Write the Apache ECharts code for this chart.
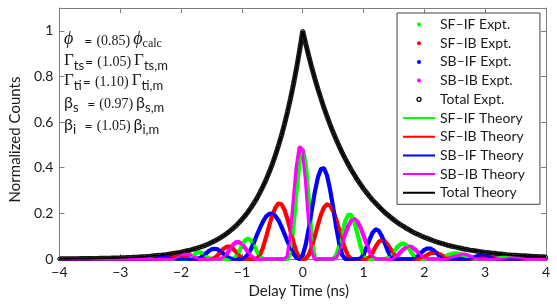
<!DOCTYPE html>
<html><head><meta charset="utf-8">
<script src="https://cdn.jsdelivr.net/npm/echarts@6/dist/echarts.min.js"></script>
<style>html,body{margin:0;padding:0;background:#fff}#c{width:557px;height:304px}</style>
</head><body><div id="c"></div>
<script>
// Delay time grid (ns)
const delay = [-4,-3.95,-3.9,-3.85,-3.8,-3.75,-3.7,-3.65,-3.6,-3.55,-3.5,-3.45,-3.4,-3.35,-3.3,-3.25,-3.2,-3.15,-3.1,-3.05,
-3,-2.95,-2.9,-2.85,-2.8,-2.75,-2.7,-2.65,-2.6,-2.55,-2.5,-2.45,-2.4,-2.35,-2.3,-2.25,-2.2,-2.15,-2.1,-2.05,
-2,-1.95,-1.9,-1.85,-1.8,-1.75,-1.7,-1.65,-1.6,-1.55,-1.5,-1.45,-1.4,-1.35,-1.3,-1.25,-1.2,-1.15,-1.1,-1.05,
-1,-0.95,-0.9,-0.85,-0.8,-0.75,-0.7,-0.65,-0.6,-0.55,-0.5,-0.45,-0.4,-0.35,-0.3,-0.25,-0.2,-0.15,-0.1,-0.05,
0,0.05,0.1,0.15,0.2,0.25,0.3,0.35,0.4,0.45,0.5,0.55,0.6,0.65,0.7,0.75,0.8,0.85,0.9,0.95,
1,1.05,1.1,1.15,1.2,1.25,1.3,1.35,1.4,1.45,1.5,1.55,1.6,1.65,1.7,1.75,1.8,1.85,1.9,1.95,
2,2.05,2.1,2.15,2.2,2.25,2.3,2.35,2.4,2.45,2.5,2.55,2.6,2.65,2.7,2.75,2.8,2.85,2.9,2.95,
3,3.05,3.1,3.15,3.2,3.25,3.3,3.35,3.4,3.45,3.5,3.55,3.6,3.65,3.7,3.75,3.8,3.85,3.9,3.95,
4];

const totalCounts = [0.0009,0.0010,0.0011,0.0012,0.0013,0.0014,0.0015,0.0017,0.0018,0.0020,0.0022,0.0024,0.0026,0.0028,0.0031,0.0034,0.0037,0.0040,0.0044,0.0048,
0.0052,0.0057,0.0062,0.0068,0.0074,0.0081,0.0088,0.0096,0.010,0.011,0.012,0.014,0.015,0.016,0.018,0.019,0.021,0.023,0.025,0.027,
0.030,0.033,0.036,0.039,0.043,0.046,0.051,0.055,0.060,0.066,0.072,0.079,0.086,0.094,0.102,0.112,0.122,0.133,0.145,0.159,
0.173,0.189,0.206,0.225,0.246,0.268,0.293,0.320,0.349,0.381,0.416,0.454,0.496,0.541,0.591,0.645,0.704,0.769,0.839,0.916,
1.000,0.943,0.889,0.838,0.790,0.745,0.703,0.662,0.625,0.589,0.555,0.524,0.494,0.465,0.439,0.414,0.390,0.368,0.347,0.327,
0.308,0.291,0.274,0.258,0.244,0.230,0.217,0.204,0.193,0.182,0.171,0.161,0.152,0.144,0.135,0.128,0.120,0.113,0.107,0.101,
0.095,0.090,0.085,0.080,0.075,0.071,0.067,0.063,0.059,0.056,0.053,0.050,0.047,0.044,0.042,0.039,0.037,0.035,0.033,0.031,
0.029,0.028,0.026,0.025,0.023,0.022,0.021,0.019,0.018,0.017,0.016,0.015,0.014,0.014,0.013,0.012,0.011,0.011,0.010,0.0096,
0.0091];

const sfIf = [0,0,0,0,0,0,0,0,0,0,0,0,0,0,0,0,0,0,0,0,
0,0,0,0,0,0,0,0,0,0.0025,0.0075,0.01,0.0075,0.0025,0,0,0,0,0,0,
0,0,0,0.0044,0.015,0.0256,0.03,0.0256,0.015,0.0044,0,0,0,0,0,0,0,0,0.0086,0.0311,
0.0589,0.0814,0.09,0.0814,0.0589,0.0311,0.0086,0,0,0,0,0,0,0,0,0,0.031,0.148,0.302,0.430,
0.48,0.416,0.258,0.091,0.003,0,0,0,0,0,0,0.016,0.059,0.116,0.166,0.194,0.192,0.160,0.110,0.056,
0.015,0,0,0,0,0,0,0,0.0045,0.017,0.034,0.051,0.063,0.068,0.0615,0.0445,0.0235,0.0065,0,0,
0,0,0,0,0,0.0016,0.0063,0.0125,0.0188,0.0233,0.025,0.0233,0.0188,0.0125,0.0063,0.0016,0,0,0,0,
0,0,0,0.0009,0.0031,0.0059,0.0081,0.009,0.0081,0.0059,0.0031,0.0009,0,0,0,0,0,0,0,0,
0];

const sfIb = [0,0,0,0,0,0,0,0,0,0,0,0,0,0,0,0,0,0,0,0,
0,0,0,0,0,0,0,0,0,0,0,0,0,0,0,0.0014,0.0052,0.0098,0.0136,0.015,
0.0136,0.0098,0.0052,0.0014,0,0,0,0,0,0,0,0.0042,0.0156,0.031,0.045,0.054,0.054,0.046,0.032,0.0165,
0.0045,0,0,0,0,0.0016,0.019,0.053,0.098,0.147,0.191,0.225,0.2435,0.240,0.216,0.174,0.1225,0.071,0.029,0.004,
0,0.0017,0.019,0.055,0.100,0.150,0.194,0.226,0.2396,0.234,0.211,0.174,0.129,0.083,0.042,0.013,0.0004,0,0,0,
0,0,0.0079,0.0287,0.0543,0.0751,0.083,0.0775,0.0623,0.0415,0.0208,0.0054,0,0,0,0,0,0,0,0.0027,
0.0097,0.0183,0.0253,0.028,0.0261,0.021,0.014,0.007,0.0018,0,0,0,0,0,0,0,0.001,0.0035,0.0065,0.009,
0.01,0.009,0.0065,0.0035,0.001,0,0,0,0,0,0,0,0,0.0004,0.0014,0.0026,0.0036,0.004,0.0036,0.0026,
0.0014];

const sbIf = [0,0,0,0,0,0,0,0,0,0,0,0,0,0,0,0,0,0,0,0,
0,0,0,0,0,0,0,0,0,0,0.0011,0.0041,0.0079,0.0109,0.012,0.0109,0.0079,0.0041,0.0011,0,
0,0,0,0,0,0,0.0029,0.0113,0.0225,0.0338,0.042,0.045,0.042,0.0338,0.0225,0.0113,0.0029,0,0,0,
0,0.0053,0.021,0.044,0.074,0.107,0.138,0.166,0.187,0.198,0.199,0.189,0.170,0.142,0.110,0.077,0.046,0.022,0.005,0,
0.017,0.064,0.135,0.216,0.295,0.358,0.394,0.397,0.366,0.304,0.226,0.141,0.068,0.018,0,0,0,0,0,0.0016,
0.019,0.051,0.086,0.116,0.130,0.124,0.101,0.069,0.035,0.009,0,0,0,0,0,0,0,0.0039,0.014,0.028,
0.040,0.046,0.046,0.038,0.026,0.013,0.0036,0,0,0,0,0,0,0,0,0.0015,0.0055,0.0105,0.0145,0.016,
0.0145,0.0105,0.0055,0.0015,0,0,0,0,0,0,0,0,0.0006,0.0021,0.0039,0.0054,0.006,0.0051,0.003,0.0009,
0];

const sbIb = [0,0,0,0,0,0,0,0,0,0,0,0,0,0,0,0,0,0,0,0,
0,0,0,0,0,0,0,0,0,0,0,0,0,0,0,0,0,0,0.0024,0.0088,
0.016,0.021,0.0215,0.017,0.0095,0.0027,0,0,0,0,0,0,0,0,0.0058,0.021,0.042,0.061,0.073,0.074,
0.065,0.049,0.030,0.012,0.0018,0,0,0,0,0,0,0,0,0,0,0.008,0.098,0.25,0.40,0.49,
0.477,0.355,0.179,0.040,0,0,0,0,0,0,0,0.009,0.035,0.071,0.111,0.146,0.169,0.175,0.163,0.138,
0.103,0.066,0.031,0.008,0,0,0,0,0,0,0.0036,0.0138,0.0275,0.041,0.051,0.055,0.051,0.041,0.0275,0.0138,
0.0036,0,0,0,0,0,0,0,0.0016,0.006,0.0117,0.0169,0.0197,0.0195,0.0162,0.0111,0.0057,0.0015,0,0,
0,0,0,0,0,0.0007,0.0024,0.0046,0.0063,0.007,0.0063,0.0046,0.0024,0.0007,0,0,0,0,0,0,
0];

const xTicks = [-4,-3,-2,-1,0,1,2,3,4];
const yTicks = [0,0.2,0.4,0.6,0.8,1];

const seriesNames = ['SF\u2013IF','SF\u2013IB','SB\u2013IF','SB\u2013IB','Total'];
const seriesValues = [sfIf, sfIb, sbIf, sbIb, totalCounts];
const seriesColors = ['#00ff00','#ff0000','#0000ff','#ff00ff','#000000'];

const FONT = 'Lato, "Open Sans", sans-serif';
const TXT = '#1a1a1a';
const AX = '#7f7f7f';
const LINE_ICON = 'path://M0,0h1v0.01h-1zM0,1h32v2h-32zM0,3.99h1v0.01h-1z';

function pairs(arr){ return delay.map((t,i)=>[t, arr[i]]); }

const series = [];
// experimental points: dense bands of dots
seriesNames.forEach((n,k)=>{
  const isTot = k===4;
  series.push({
    name: n + ' Expt.', type:'line', data: pairs(seriesValues[k]),
    symbol:'circle', showSymbol:true, symbolSize: isTot ? 3.2 : 3.6,
    lineStyle:{color: isTot ? '#1f1f1f' : seriesColors[k], width: isTot ? 5 : 4.2},
    itemStyle: isTot ? {color:'#9a9a9a', borderColor:'#000', borderWidth:0.8} : {color: seriesColors[k]},
    z: 2, silent:true, animation:false
  });
});
// theory curves
seriesNames.forEach((n,k)=>{
  series.push({
    name: n + ' Theory', type:'line', data: pairs(seriesValues[k]),
    symbol:'none', showSymbol:false,
    lineStyle:{color: seriesColors[k], width: 1.8},
    itemStyle:{color: seriesColors[k]},
    z: 3, silent:true, animation:false
  });
});

const legendData = series.map(s=>{
  if (s.name==='Total Expt.') return {name:s.name, icon:'circle', itemStyle:{color:'#fff', borderColor:'#000', borderWidth:1.3}};
  if (s.name.indexOf('Expt.')>=0) return {name:s.name, icon:'circle'};
  return {name:s.name, icon:LINE_ICON};
});

function axisCommon(){
  return {
    axisLine:{show:true, onZero:false, lineStyle:{color:AX, width:1}},
    axisTick:{show:true, inside:true, length:5, lineStyle:{color:AX, width:1}},
    splitLine:{show:false}
  };
}

const serif = '"Liberation Serif", "DejaVu Serif", serif';
const sans = 'Lato, "Open Sans", sans-serif';
const rich = {
  ph:{fontFamily:serif, fontStyle:'italic', fontSize:18, verticalAlign:'bottom', lineHeight:18, padding:[0,0,3,0], color:TXT},
  G:{fontFamily:serif, fontSize:17, verticalAlign:'bottom', lineHeight:18, padding:[0,0,3,0], color:TXT},
  b:{fontFamily:sans, fontSize:16, verticalAlign:'bottom', lineHeight:18, padding:[0,0,3,0], color:TXT},
  eq:{fontFamily:sans, fontSize:14, verticalAlign:'bottom', lineHeight:18, padding:[0,0,3,5], color:TXT},
  eq1:{fontFamily:sans, fontSize:14, verticalAlign:'bottom', lineHeight:18, padding:[0,0,3,11], color:TXT},
  eq2:{fontFamily:sans, fontSize:14, verticalAlign:'bottom', lineHeight:18, padding:[0,0,3,1], color:TXT},
  n:{fontFamily:serif, fontSize:14, verticalAlign:'bottom', lineHeight:18, padding:[0,3,3,4], color:TXT},
  s:{fontFamily:sans, fontSize:13, verticalAlign:'bottom', lineHeight:13, padding:[0,0,0,0], color:TXT},
  c:{fontFamily:serif, fontSize:12, verticalAlign:'bottom', lineHeight:12, padding:[0,0,1,0], color:TXT}
};
const annotations = [
  '{ph|\u03D5}{eq1|=}{n|(0.85)}{ph|\u03D5}{c|calc}',
  '{G|\u0393}{s|ts}{eq2|=}{n|(1.05)}{G|\u0393}{s|ts,m}',
  '{G|\u0393}{s|ti}{eq2|=}{n|(1.10)}{G|\u0393}{s|ti,m}',
  '{b|\u03B2}{s|s}{eq| =}{n|(0.97)}{b|\u03B2}{s|s,m}',
  '{b|\u03B2}{s|i}{eq| =}{n|(1.05)}{b|\u03B2}{s|i,m}'
];
const annTop = [30, 52, 72, 95, 117];

const option = {
  animation:false,
  backgroundColor:'#fff',
  grid:{left:50, right:11, top:8, bottom:38, containLabel:false},
  xAxis:[
    Object.assign({type:'value', min:xTicks[0], max:xTicks[xTicks.length-1], interval:1, position:'bottom',
      axisLabel:{color:TXT, fontFamily:FONT, fontSize:14, margin:6,
        formatter:v=> v<0 ? '\u2212'+(-v) : String(v)},
      name:'Delay Time (ns)', nameLocation:'middle', nameGap:25,
      nameTextStyle:{color:TXT, fontFamily:FONT, fontSize:15, padding:[0,8,0,0]}}, axisCommon()),
    Object.assign({type:'value', min:xTicks[0], max:xTicks[xTicks.length-1], interval:1, position:'top',
      axisLabel:{show:false}}, axisCommon())
  ],
  yAxis:[
    Object.assign({type:'value', min:yTicks[0], max:1.1, interval:0.2, position:'left',
      axisLabel:{color:TXT, fontFamily:FONT, fontSize:14, margin:6, showMaxLabel:false},
      name:'Normalized Counts', nameLocation:'middle', nameGap:31,
      nameTextStyle:{color:TXT, fontFamily:FONT, fontSize:15, padding:[0,12,0,0]}}, axisCommon()),
    Object.assign({type:'value', min:yTicks[0], max:1.1, interval:0.2, position:'right',
      axisLabel:{show:false}}, axisCommon())
  ],
  legend:{
    orient:'vertical', left:397, top:13, padding:[4,15,4,6],
    itemWidth:32, itemHeight:4, itemGap:3.7,
    backgroundColor:'#fff', borderColor:'#444', borderWidth:1, borderRadius:0,
    selectedMode:false,
    textStyle:{fontFamily:FONT, fontSize:14, color:TXT, lineHeight:15},
    data: legendData
  },
  graphic: annotations.map((t,i)=>({
    type:'text', left:64, top:annTop[i], silent:true,
    style:{text:t, rich:rich, fill:TXT}
  })),
  series: series
};

const chart = echarts.init(document.getElementById('c'), null, {renderer:'canvas'});
chart.setOption(option);
</script>
</body></html>
